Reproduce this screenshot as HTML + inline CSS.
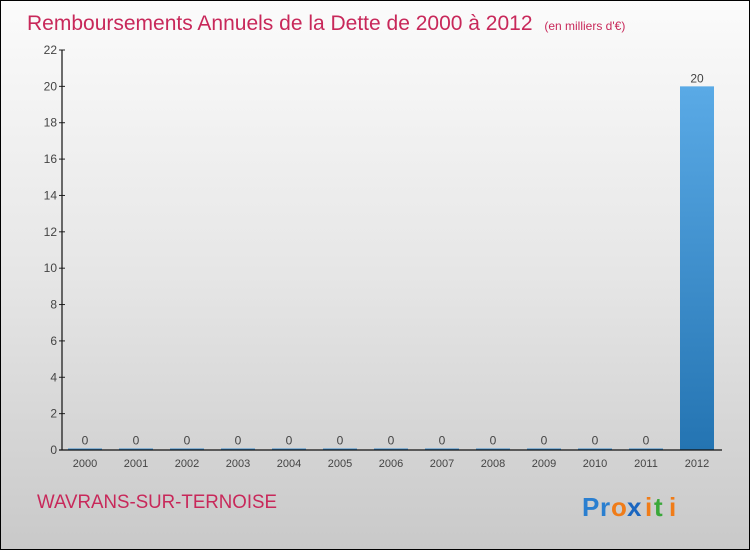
<!DOCTYPE html>
<html><head><meta charset="utf-8"><style>
html,body{margin:0;padding:0}
body{width:750px;height:550px;overflow:hidden;font-family:"Liberation Sans",sans-serif}
#wrap{position:relative;width:748px;height:548px;border:1px solid #000;background:linear-gradient(#fbfbfb,#e6e6e6 50%,#c9c9c9)}
</style></head><body>
<div id="wrap">
<svg id="chart" width="748" height="548" style="position:absolute;left:0;top:0">
<defs><linearGradient id="bg" x1="0" y1="0" x2="0" y2="1"><stop offset="0" stop-color="#5aaae6"/><stop offset="1" stop-color="#2474b2"/></linearGradient></defs>
<text x="26" y="29" font-size="21" fill="#c8285a">Remboursements Annuels de la Dette de 2000 à 2012 <tspan font-size="12" dx="6">(en milliers d'€)</tspan></text>
<g id="marks"></g>
<text x="36" y="507" font-size="19" fill="#c8285a" textLength="240" lengthAdjust="spacingAndGlyphs">WAVRANS-SUR-TERNOISE</text>
<g font-size="26" font-weight="bold" font-family="Liberation Sans, sans-serif">
<text x="581" y="515" fill="#2a7fd0">P</text><text x="599" y="515" fill="#2a7fd0">r</text><text x="610" y="515" fill="#f07c18">o</text><text x="626" y="515" fill="#1a66c0">x</text><text x="644" y="515" fill="#f07c18">i</text><text x="653" y="515" fill="#3aa83a">t</text><text x="668" y="515" fill="#f07c18">i</text>
</g>
</svg>
</div>
<script>
const categories=["2000","2001","2002","2003","2004","2005","2006","2007","2008","2009","2010","2011","2012"];
const values=[0,0,0,0,0,0,0,0,0,0,0,0,20];
const yTicks=[0,2,4,6,8,10,12,14,16,18,20,22];
const NS="http://www.w3.org/2000/svg";
const g=document.getElementById('marks');
const x0=59.5,x1=722.5,yb=449,yt=49,ymax=22;
const step=(x1-x0)/categories.length;
const xc=i=>x0+step*(i+0.5)-1;
const y=v=>yb-(v/ymax)*(yb-yt);
function mk(t,a){const e=document.createElementNS(NS,t);for(const k in a)e.setAttribute(k,a[k]);g.appendChild(e);return e;}
values.forEach((v,i)=>{
 const h=Math.max(yb-y(v),1.5);
 const r=mk('rect',{x:xc(i)-17,y:yb-h,width:34,height:h,fill:v>0?'url(#bg)':'#3c8ccc'});
 
 
 const t=mk('text',{x:xc(i),y:yb-h-4,'font-size':12,fill:'#444','text-anchor':'middle'});
 t.textContent=values[i];
 
 
 const c=mk('text',{x:xc(i),y:466,'font-size':11,fill:'#444','text-anchor':'middle'});
 c.textContent=categories[i];
 
 
});
yTicks.forEach(v=>{
 const l=mk('line',{x1:58,x2:64,y1:y(v),y2:y(v),stroke:'#222'});
 
 
 const t=mk('text',{x:56,y:y(v)+4,'font-size':12,fill:'#444','text-anchor':'end'});
 t.textContent=v;
 
 
});
const ya=mk('line',{x1:61,x2:61,y1:yt,y2:yb,stroke:'#111','stroke-width':1.2});


const xa=mk('line',{x1:58,x2:721,y1:yb,y2:yb,stroke:'#111','stroke-width':1.2});


</script>
</body></html>
